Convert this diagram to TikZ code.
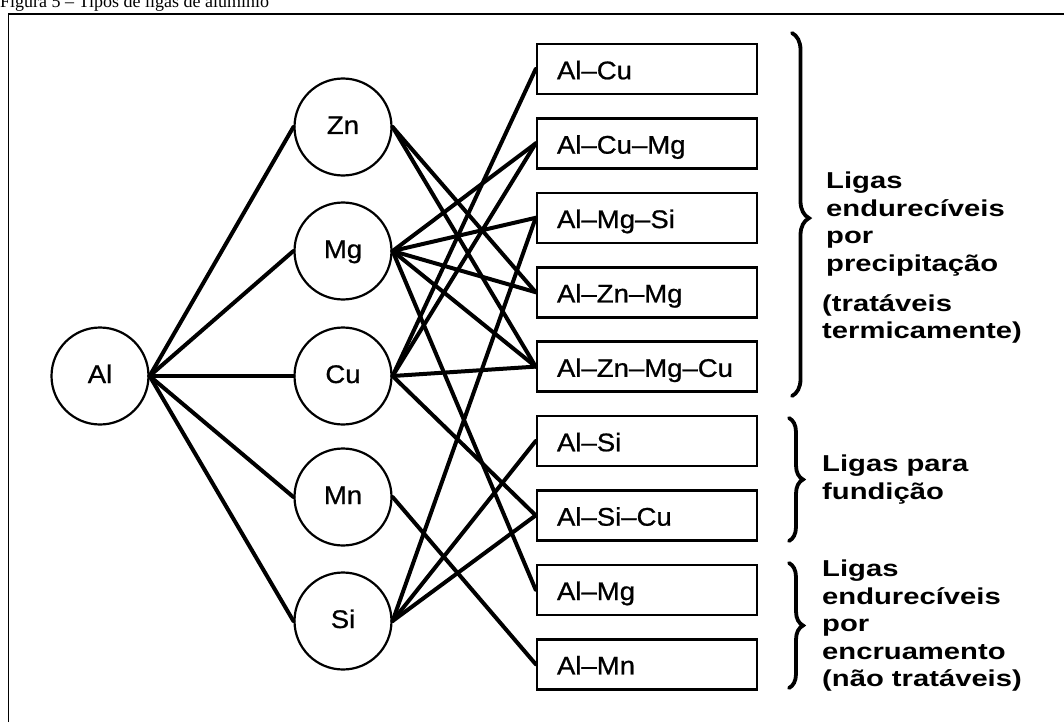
\documentclass[tikz,border=0pt]{standalone}
\usepackage{fontspec}
\usepackage{tikz}
\usetikzlibrary{positioning}
\usetikzlibrary{decorations.pathreplacing}
\newfontfamily\elemfont[FakeStretch=1.08, FakeBold=0.8]{Liberation Sans}
\newfontfamily\groupfont[FakeStretch=1.27]{Liberation Sans}
\newfontfamily\capfont{Liberation Serif}
\tikzstyle{elem} = [circle, draw, line width=2.2pt, minimum size=97pt, inner sep=0pt,
    text height=18pt, text depth=4pt,
    font=\elemfont\fontsize{25.5}{30}\selectfont]
\tikzstyle{alloy} = [rectangle, draw, line width=2.6pt, text width=180pt,
    inner xsep=20pt, minimum height=50pt, align=left,
    text height=20.5pt, text depth=0pt, node distance=74.4pt,
    font=\elemfont\fontsize{25.5}{30}\selectfont]
\tikzstyle{bond} = [draw, line width=4pt, line cap=round]
\tikzstyle{curly} = [draw, line width=3.8pt, line cap=round, decorate]
\tikzstyle{grouptext} = [anchor=north west, inner sep=0pt, align=left,
    font=\groupfont\bfseries\fontsize{23}{27.5}\selectfont]

\begin{document}
\begin{tikzpicture}[x=1pt, y=-1pt, node distance = 124pt, auto]
  \useasboundingbox (0,0) rectangle (1064,722);
  % Frame and caption
  \draw [line width=1.6pt] (8.5,722) -- (8.5,14) -- (1064,14);
  \node [anchor=base west, inner sep=0pt, font=\capfont\fontsize{18}{22}\selectfont]
    (caption) at (0,8) {Figura 5 – Tipos de ligas de alumínio};

  % Place nodes
  \node [elem] (al) at (100,376) {Al};
  \node [elem, right of=al, node distance=243pt] (cu) {Cu};
  \node [elem, above of=cu, node distance=125pt] (mg) {Mg};
  \node [elem, above of=mg] (zn) {Zn};
  \node [elem, below of=cu, node distance=121pt] (mn) {Mn};
  \node [elem, below of=mn] (si) {Si};

  \node [alloy] (alcu) at (647,69) {Al–Cu};
  \node [alloy, below of=alcu] (alcumg) {Al–Cu–Mg};
  \node [alloy, below of=alcumg] (almgsi) {Al–Mg–Si};
  \node [alloy, below of=almgsi] (alznmg) {Al–Zn–Mg};
  \node [alloy, below of=alznmg] (alznmgcu) {Al–Zn–Mg–Cu};
  \node [alloy, below of=alznmgcu] (alsi) {Al–Si};
  \node [alloy, below of=alsi] (alsicu) {Al–Si–Cu};
  \node [alloy, below of=alsicu] (almg) {Al–Mg};
  \node [alloy, below of=almg] (almn) {Al–Mn};

  % Al to the alloying elements
  \path [bond] (al.east) -- (zn.west);
  \path [bond] (al.east) -- (mg.west);
  \path [bond] (al.east) -- (cu.west);
  \path [bond] (al.east) -- (mn.west);
  \path [bond] (al.east) -- (si.west);

  % elements to alloys
  \path [bond] (zn.east) -- (alznmg.west);
  \path [bond] (zn.east) -- (alznmgcu.west);
  \path [bond] (mg.east) -- (alcumg.west);
  \path [bond] (mg.east) -- (almgsi.west);
  \path [bond] (mg.east) -- (alznmg.west);
  \path [bond] (mg.east) -- (alznmgcu.west);
  \path [bond] (mg.east) -- (almg.west);
  \path [bond] (cu.east) -- (alcu.west);
  \path [bond] (cu.east) -- (alcumg.west);
  \path [bond] (cu.east) -- (alznmgcu.west);
  \path [bond] (cu.east) -- (alsicu.west);
  \path [bond] (mn.east) -- (almn.west);
  \path [bond] (si.east) -- (almgsi.west);
  \path [bond] (si.east) -- (alsi.west);
  \path [bond] (si.east) -- (alsicu.west);

  % Braces and groups
  \draw [curly, decoration={brace, amplitude=17pt, aspect=0.51}] (792,33) -- (792,396);
  \draw [curly, decoration={brace, amplitude=14pt}] (789,418) -- (789,541);
  \draw [curly, decoration={brace, amplitude=14pt}] (789,563) -- (789,688);

  \node [grouptext] (precip) at (826,172) {Ligas\\endurecíveis\\por\\precipitação};
  \node [grouptext] (termic) at (822,294) {(tratáveis\\termicamente)};
  \node [grouptext] (fund) at (822,455) {Ligas para\\fundição};
  \node [grouptext] (encru) at (822,560) {Ligas\\endurecíveis\\por\\encruamento\\(não tratáveis)};
\end{tikzpicture}
\end{document}
